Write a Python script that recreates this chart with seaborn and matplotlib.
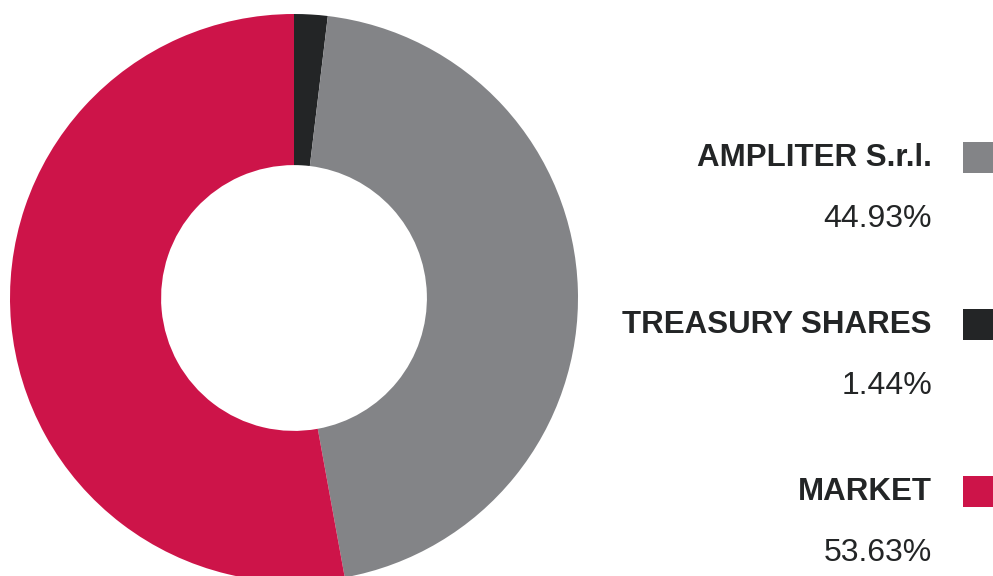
import matplotlib
matplotlib.use("Agg")
import matplotlib.pyplot as plt
import seaborn as sns
from matplotlib.patches import Rectangle

# shareholders, clockwise from 12 o'clock
labels = ['TREASURY SHARES', 'AMPLITER S.r.l.', 'MARKET']
# wedge sizes as drawn in the picture (slightly off the printed figures)
shares = [1.9, 45.24, 52.86]
pct_labels = ['1.44%', '44.93%', '53.63%']
colors = ['#232526', '#838487', '#CD1449']

# legend order on the right
legend_order = ['AMPLITER S.r.l.', 'TREASURY SHARES', 'MARKET']

sns.set_theme(style="white")
plt.rcParams['font.family'] = ['Liberation Sans', 'DejaVu Sans']

W, H = 993, 576
fig = plt.figure(figsize=(W / 100, H / 100), dpi=100)
fig.patch.set_facecolor('white')

# donut, square in pixels
ax = fig.add_axes([10 / W, (H - 582) / H, 568 / W, 568 / H])
ax.pie(shares, colors=colors, startangle=90, counterclock=False,
       radius=1.0, wedgeprops=dict(width=0.532, linewidth=0))
ax.set_xlim(-1, 1)
ax.set_ylim(-1, 1)
ax.set_aspect('equal')
ax.axis('off')

text_right = 932
group_top = [142, 309, 476]
for i, name in enumerate(legend_order):
    j = labels.index(name)
    top = group_top[i]
    fig.text(text_right / W, 1 - (top + 24) / H, name, ha='right', va='baseline',
             fontsize=22.5, fontweight='bold', color='#232526')
    fig.text(text_right / W, 1 - (top + 85) / H, pct_labels[j], ha='right', va='baseline',
             fontsize=23, color='#232526')
    fig.patches.append(Rectangle((963 / W, 1 - (top + 31) / H), 30 / W, 31 / H,
                                 transform=fig.transFigure, facecolor=colors[j],
                                 edgecolor='none', figure=fig))

fig.savefig('out.png', dpi=100)
